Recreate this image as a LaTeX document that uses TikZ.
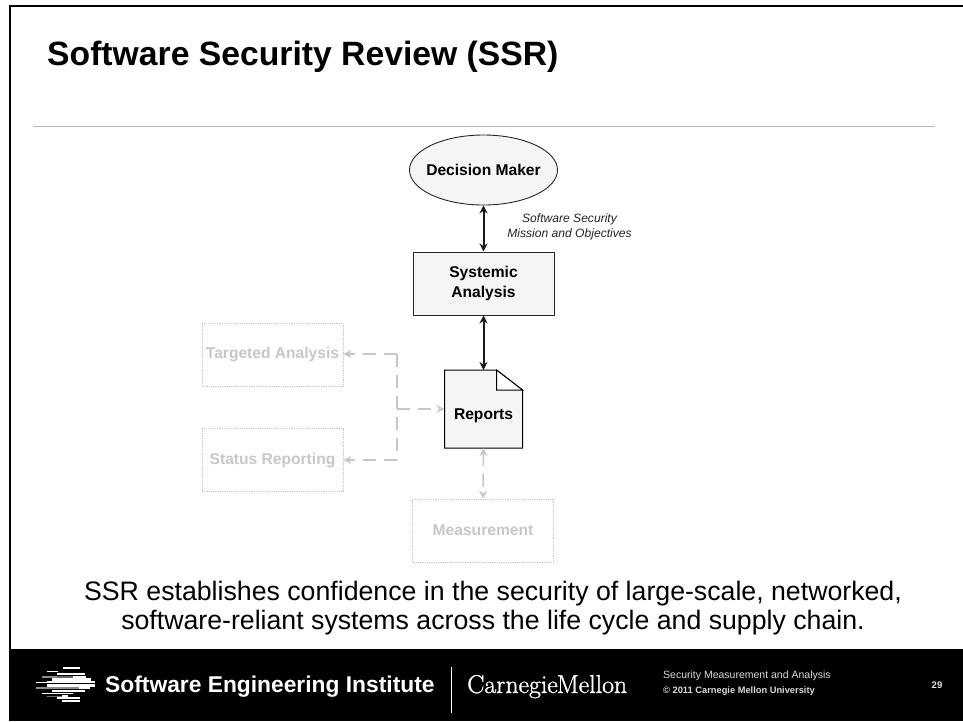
\documentclass[tikz,border=0pt]{standalone}
\usepackage{fontspec}
\setsansfont{Liberation Sans}
\renewcommand{\familydefault}{\sfdefault}
\newfontfamily\cmfont[FakeBold=1.2]{Latin Modern Roman}
\usetikzlibrary{shapes.geometric,arrows.meta,calc}
\tikzset{
 x=1pt,y=-1pt,
 boldlabel/.style={font=\sffamily\bfseries\fontsize{15.6}{20}\selectfont},
 mainbox/.style={draw=black!85,fill=black!4,line width=1pt,minimum width=141pt,minimum height=63pt,inner sep=0pt,align=center,boldlabel},
 fadedbox/.style={draw=black!22,densely dotted,line width=0.8pt,minimum width=141pt,minimum height=63pt,inner sep=0pt,align=center,text=black!22,boldlabel},
 solidlink/.style={line width=2pt,black!90,{Stealth[length=8pt,width=8pt]}-{Stealth[length=8pt,width=8pt]}},
 fadedlink/.style={line width=1.6pt,black!22,dash pattern=on 13pt off 8pt,-{Stealth[length=8pt,width=8pt]}},
 fadedlinkb/.style={line width=1.6pt,black!22,dash pattern=on 13pt off 8pt,{Stealth[length=8pt,width=8pt]}-{Stealth[length=8pt,width=8pt]}},
 fadedtrunk/.style={line width=1.6pt,black!22,dash pattern=on 13pt off 8pt},
}
\begin{document}
\begin{tikzpicture}
\useasboundingbox (0,0) rectangle (963,721);
\fill[white] (0,0) rectangle (963,721);
\draw[black,line width=2pt] (10,650) -- (10,6) -- (963,6);
\fill[black] (9,649) rectangle (963,721);
\node[anchor=west,inner sep=0pt,font=\sffamily\bfseries\fontsize{33.7}{38}\selectfont] (title) at (47,57) {Software Security Review (SSR)};
\draw[black!28,line width=1pt] (33,126) -- (935,126);

\node[ellipse,draw=black!85,fill=black!4,line width=0.9pt,minimum width=148pt,minimum height=70pt,inner xsep=-8pt,inner ysep=0pt,boldlabel] (dm) at (483.5,170) {Decision Maker};
\node[mainbox] (sa) at (483.5,283.5) {Systemic\\Analysis};
\node[anchor=center,inner sep=0pt,align=center,font=\sffamily\itshape\fontsize{12.1}{15}\selectfont,text=black!85] (mo) at (569.5,226.5) {Software Security\\Mission and Objectives};
\draw[solidlink] (dm.south) -- (sa.north);

\draw[draw=black,fill=black!4,line width=1pt] (444.5,370) -- (496.5,370) -- (522.5,390) -- (522.5,448) -- (444.5,448) -- cycle;
\draw[black,line width=1pt,fill=white] (496.5,370) -- (496.5,390) -- (522.5,390) -- cycle;
\node[inner sep=0pt,minimum width=78pt,minimum height=20pt,boldlabel] (rep) at (483.5,416) {Reports};
\coordinate (reptop) at (483.5,370);
\coordinate (repbot) at (483.5,448);
\coordinate (repleft) at (444.5,409);
\draw[solidlink] (sa.south) -- (reptop);

\node[fadedbox] (ta) at (272.5,354.5) {Targeted Analysis};
\node[fadedbox] (sr) at (272.5,460) {Status Reporting};
\node[fadedbox] (me) at (483,530.5) {Measurement};
\coordinate (jt) at (397,354);
\coordinate (jb) at (397,460);
\coordinate (jm) at (397,409);
\draw[fadedtrunk] (jt) -- (jb);
\draw[fadedlink] (jt) -- (jt -| ta.east);
\draw[fadedlink] (jb) -- (jb -| sr.east);
\draw[fadedlink] (jm) -- (repleft);
\draw[fadedlinkb] (repbot) -- (me.north);

\node[inner sep=0pt,align=center,font=\sffamily\fontsize{26.7}{29.5}\selectfont] (body) at (493,608) {SSR establishes confidence in the security of large-scale, networked,\\software-reliant systems across the life cycle and supply chain.};

% footer logo
\foreach \yy/\xa/\xb/\hh/\col in {668/63/80/2.2/white,671.5/47/58/0.9/white,674/57/85/2.2/white,677/42/57/1.6/black!45,677/57/73/1.6/black!60,677/73/86/1.6/white,679.5/52/91/2.2/white,682/36/47/0.9/white,682/47/95/2/white,685.5/47/95/2.4/white,688/36/79/1.8/black!45,688/79/90/1.8/white,690.5/52/85/2/white,693.5/42/73/1/white,696/47/62/1/black!55,696/62/68/1.2/white,698/57/80/2/white,701/62/80/2/white}{
  \fill[\col] (\xa,\yy-\hh/2) rectangle (\xb,\yy+\hh/2);
}
\node[anchor=west,inner sep=0pt,text=white,font=\sffamily\bfseries\fontsize{22.8}{24}\selectfont] (sei) at (105,687) {Software Engineering Institute};
\draw[white,line width=0.7pt] (451,667) -- (451,713);
\node[anchor=base west,inner sep=0pt,text=white,font=\cmfont\fontsize{25.8}{26}\selectfont] (cmu) at (467,693) {Carnegie\hspace{-1pt}Mellon};
\node[anchor=west,inner sep=0pt,text=white!85!black,font=\sffamily\fontsize{10.5}{12}\selectfont] (sma) at (663,676) {Security Measurement and Analysis};
\node[anchor=west,inner sep=0pt,text=white!85!black,font=\sffamily\bfseries\fontsize{9.3}{12}\selectfont] (cr) at (663,691) {© 2011 Carnegie Mellon University};
\node[inner sep=0pt,text=white!90!black,font=\sffamily\bfseries\fontsize{9.5}{12}\selectfont] (pg) at (937,685) {29};
\end{tikzpicture}
\end{document}
